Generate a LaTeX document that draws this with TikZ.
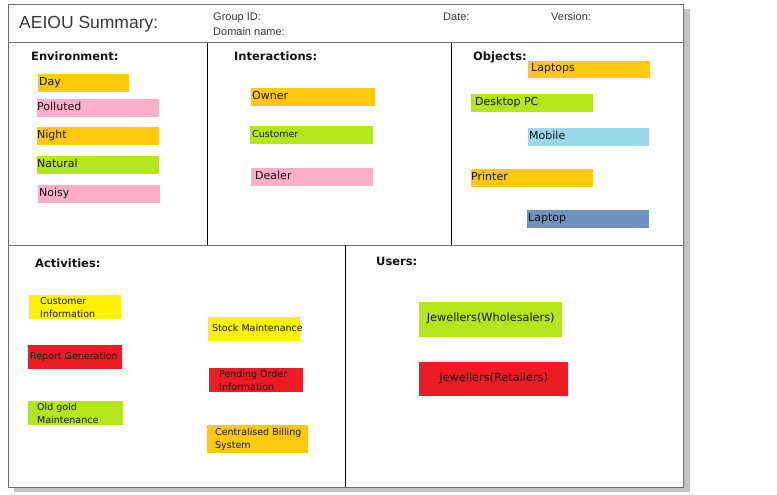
\documentclass[tikz,border=0pt]{standalone}
\usepackage{fontspec}
\setmainfont{Liberation Sans}
\newfontfamily\stickyfont{DejaVu Sans}
\usepackage{tikz}
\usetikzlibrary{positioning}
\definecolor{amber}{HTML}{FFC90E}
\definecolor{rose}{HTML}{FFAEC9}
\definecolor{lime}{HTML}{B5E61D}
\definecolor{sky}{HTML}{99D9EA}
\definecolor{steel}{HTML}{7092BE}
\definecolor{lemon}{HTML}{FFF200}
\definecolor{scarlet}{HTML}{ED1C24}
\definecolor{ink}{HTML}{141414}
\definecolor{framegray}{HTML}{6E6E6E}
\definecolor{shadowgray}{HTML}{C3C3C3}
\tikzstyle{border} = [draw = framegray, line width = 1pt]
\tikzstyle{divider} = [draw = black, line width = 0.9pt]
\tikzstyle{sticky} = [rectangle, anchor = north west, inner sep = 0,
  minimum height = 18]
\tikzstyle{sticktext} = [inner sep = 0, align = left, text = ink,
  text height = 8pt, text depth = 4pt,
  font = {\stickyfont\fontsize{11}{13}\selectfont}]
\tikzstyle{smalltext} = [sticktext, text height = 7pt, text depth = 3pt,
  font = {\stickyfont\fontsize{9.5}{12.7}\selectfont}]
\tikzstyle{twoline} = [inner sep = 0, align = left, text = ink,
  font = {\stickyfont\fontsize{9.5}{12.7}\selectfont}]
\tikzstyle{userbox} = [sticky, text = ink, text height = 8pt, text depth = 4pt,
  font = {\stickyfont\fontsize{11.3}{13}\selectfont}]
\tikzstyle{heading} = [anchor = base west, inner sep = 0, text = ink,
  font = {\stickyfont\bfseries\fontsize{11.5}{14}\selectfont}]
\tikzstyle{field} = [anchor = base west, inner sep = 0, text = ink!85,
  font = {\fontsize{11}{13}\selectfont}]

\begin{document}
\begin{tikzpicture}[x = 1pt, y = -1pt]
    \useasboundingbox (0, 0) rectangle (777, 495);
    % shadow and frame
    \fill [shadowgray] (14, 487) rectangle (690, 492);
    \fill [shadowgray] (683, 9) rectangle (690, 492);
    \fill [white] (8, 5) rectangle (683, 487);
    \draw [border] (8, 5) rectangle (683, 487);
    \draw [border] (8, 43) -- (683, 43);
    \draw [border] (8, 245) -- (683, 245);
    \draw [divider] (207, 43) -- (207, 245);
    \draw [divider] (451, 43) -- (451, 245);
    \draw [divider] (345, 245) -- (345, 487);
    % header
    \node [field, font = {\fontsize{17.5}{20}\selectfont}] (title) at (19, 29)
      {AEIOU Summary:};
    \node [field] (group-id) at (213, 20.7) {Group ID:};
    \node [field] (domain-name) at (213, 36) {Domain name:};
    \node [field] (date) at (443, 20.7) {Date:};
    \node [field] (version) at (551, 20.7) {Version:};
    % headings
    \node [heading] (head-env) at (31, 61) {Environment:};
    \node [heading] (head-int) at (234, 61) {Interactions:};
    \node [heading] (head-obj) at (473, 61) {Objects:};
    \node [heading] (head-act) at (35, 267) {Activities:};
    \node [heading] (head-user) at (376, 265.5) {Users:};
    % environment
    \node [sticky, fill = amber, minimum width = 91] (env-day) at (38, 74) {};
    \node [sticktext, right = 1pt of env-day.west] (env-day-text) {Day};
    \node [sticky, fill = rose, minimum width = 122] (env-polluted) at (37, 99) {};
    \node [sticktext, right = 0pt of env-polluted.west] (env-polluted-text) {Polluted};
    \node [sticky, fill = amber, minimum width = 122] (env-night) at (37, 127) {};
    \node [sticktext, right = 0pt of env-night.west] (env-night-text) {Night};
    \node [sticky, fill = lime, minimum width = 122] (env-natural) at (37, 156) {};
    \node [sticktext, right = 0pt of env-natural.west] (env-natural-text) {Natural};
    \node [sticky, fill = rose, minimum width = 122] (env-noisy) at (38, 185) {};
    \node [sticktext, right = 1pt of env-noisy.west] (env-noisy-text) {Noisy};
    % interactions
    \node [sticky, fill = amber, minimum width = 124] (int-owner) at (251, 88) {};
    \node [sticktext, right = 1pt of int-owner.west] (int-owner-text) {Owner};
    \node [sticky, fill = lime, minimum width = 123] (int-customer) at (250, 126) {};
    \node [smalltext, right = 2pt of int-customer.west] (int-customer-text) {Customer};
    \node [sticky, fill = rose, minimum width = 122] (int-dealer) at (251, 168) {};
    \node [sticktext, right = 4pt of int-dealer.west] (int-dealer-text) {Dealer};
    % objects
    \node [sticky, fill = amber, minimum width = 122, minimum height = 17]
      (obj-laptops) at (528, 61) {};
    \node [sticktext, right = 3pt of obj-laptops.west] (obj-laptops-text) {Laptops};
    \node [sticky, fill = lime, minimum width = 122] (obj-desktop) at (471, 94) {};
    \node [sticktext, right = 4pt of obj-desktop.west] (obj-desktop-text) {Desktop PC};
    \node [sticky, fill = sky, minimum width = 121] (obj-mobile) at (528, 128) {};
    \node [sticktext, right = 1pt of obj-mobile.west] (obj-mobile-text) {Mobile};
    \node [sticky, fill = amber, minimum width = 122] (obj-printer) at (471, 169) {};
    \node [sticktext, right = 0pt of obj-printer.west] (obj-printer-text) {Printer};
    \node [sticky, fill = steel, minimum width = 122] (obj-laptop) at (527, 210) {};
    \node [sticktext, right = 1pt of obj-laptop.west] (obj-laptop-text) {Laptop};
    % activities
    \node [sticky, fill = lemon, minimum width = 92, minimum height = 24]
      (act-customer) at (29, 295) {};
    \node [twoline, right = 11pt of act-customer.west] (act-customer-text)
      {Customer\\Information};
    \node [sticky, fill = scarlet, minimum width = 94, minimum height = 24]
      (act-report) at (28, 345) {};
    \node [smalltext, right = 2pt of act-report.west] (act-report-text)
      {Report Generation};
    \node [sticky, fill = lime, minimum width = 95, minimum height = 24]
      (act-oldgold) at (28, 401) {};
    \node [twoline, right = 9pt of act-oldgold.west] (act-oldgold-text)
      {Old gold\\Maintenance};
    \node [sticky, fill = lemon, minimum width = 92, minimum height = 24]
      (act-stock) at (208, 317) {};
    \node [smalltext, right = 4pt of act-stock.west] (act-stock-text)
      {Stock Maintenance};
    \node [sticky, fill = scarlet, minimum width = 94, minimum height = 24]
      (act-pending) at (209, 368) {};
    \node [twoline, right = 10pt of act-pending.west] (act-pending-text)
      {Pending Order\\Information};
    \node [sticky, fill = amber, minimum width = 101, minimum height = 28]
      (act-billing) at (207, 425) {};
    \node [twoline, right = 8pt of act-billing.west] (act-billing-text)
      {Centralised Billing\\System};
    % users
    \node [userbox, fill = lime, minimum width = 143, minimum height = 35]
      (user-wholesale) at (419, 302) {Jewellers(Wholesalers)};
    \node [userbox, fill = scarlet, minimum width = 149, minimum height = 34]
      (user-retail) at (419, 362) {Jewellers(Retailers)};
  \end{tikzpicture}
\end{document}
